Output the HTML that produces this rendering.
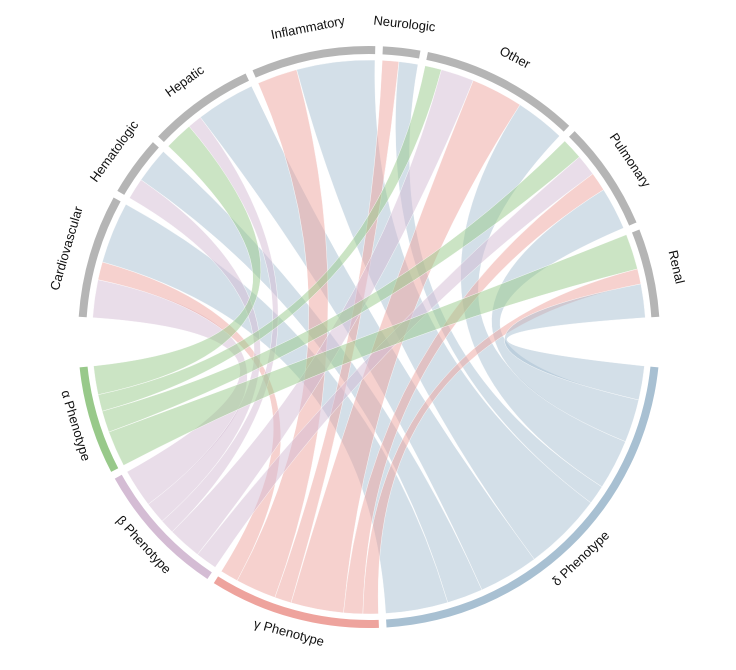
<!DOCTYPE html>
<html><head><meta charset="utf-8"><style>
html,body{margin:0;padding:0;background:#fff;}
svg{display:block;font-family:"Liberation Sans",Arial,sans-serif;}
</style></head><body>
<svg id="chart" width="736" height="670" viewBox="0 0 736 670"></svg>
<script>
const categories = ["Cardiovascular","Hematologic","Hepatic","Inflammatory","Neurologic","Other","Pulmonary","Renal"];
const phenotypes = ["α Phenotype","β Phenotype","γ Phenotype","δ Phenotype"];
// values per category for each phenotype
const alphaValues = [0, 0, 6, 0, 0, 3.5, 4.5, 7.5];
const betaValues  = [8, 4.5, 3, 0, 0, 7, 4.5, 0];
const gammaValues = [3.8, 0, 0, 8.5, 3.5, 11, 4, 3.2];
const deltaValues = [13, 7.5, 12.5, 16.5, 4, 10.5, 9, 7.1];

const phenoColors = ["#98c98a","#d4bcd4","#eea39d","#a8c0d2"];
const series = [alphaValues, betaValues, gammaValues, deltaValues];
const NS = "http://www.w3.org/2000/svg";
const svg = document.getElementById("chart");
const cx = 369, cy = 337, rOut = 291, rIn = 283, rRib = 277;
const deg = Math.PI/180, pad = 1.5;

function pt(r, a){ return [cx + r*Math.sin(a*deg), cy - r*Math.cos(a*deg)]; }
function mk(tag, attrs){ const e=document.createElementNS(NS,tag); for(const k in attrs) e.setAttribute(k, attrs[k]); return e; }

const catTotals = categories.map((c,i)=>series.reduce((s,v)=>s+v[i],0));
const total = catTotals.reduce((a,b)=>a+b,0);
const topStart=-86, topEnd=86, botStart=96, botEnd=264;
const kTop = (topEnd-topStart - pad*(categories.length-1))/total;
const kBot = (botEnd-botStart - pad*(phenotypes.length-1))/total;

const catGroups=[], sub={};
let a=topStart;
categories.forEach((c,i)=>{
  const g={start:a}; let s=a;
  series.forEach((v,j)=>{ const w=v[i]*kTop; sub["c"+i+"_"+j]={a0:s,a1:s+w}; s+=w; });
  g.end=s; catGroups.push(g); a=s+pad;
});
const phGroups=[];
a=botStart;
for(let j=phenotypes.length-1;j>=0;j--){
  const g={start:a}; let s=a;
  for(let i=categories.length-1;i>=0;i--){ const w=series[j][i]*kBot; sub["p"+j+"_"+i]={a0:s,a1:s+w}; s+=w; }
  g.end=s; phGroups[j]=g; a=s+pad;
}

function arcBand(a0,a1,ro,ri){
  const p0=pt(ro,a0),p1=pt(ro,a1),p2=pt(ri,a1),p3=pt(ri,a0);
  const l=(a1-a0)>180?1:0;
  return `M${p0}A${ro},${ro} 0 ${l} 1 ${p1}L${p2}A${ri},${ri} 0 ${l} 0 ${p3}Z`;
}
function ribbon(s,t){
  const s0=pt(rRib,s.a0),s1=pt(rRib,s.a1),t0=pt(rRib,t.a0),t1=pt(rRib,t.a1);
  return `M${s0}A${rRib},${rRib} 0 0 1 ${s1}Q${cx},${cy} ${t0}A${rRib},${rRib} 0 0 1 ${t1}Q${cx},${cy} ${s0}Z`;
}

const gr = mk("g",{});


svg.appendChild(gr);
const names=["alpha","beta","gamma","delta"];
categories.forEach((c,i)=>{
  series.forEach((v,j)=>{
    if(v[i]<=0) return;
    const p=mk("path",{d:ribbon(sub["c"+i+"_"+j],sub["p"+j+"_"+i]),fill:phenoColors[j],"fill-opacity":"0.5",stroke:"#fff","stroke-width":"0.5","stroke-opacity":"0.8"});
    
    
    gr.appendChild(p);
  });
});

categories.forEach((c,i)=>{
  const g=catGroups[i];
  const p=mk("path",{d:arcBand(g.start,g.end,rOut,rIn),fill:"#b5b5b5"});
  
  
  svg.appendChild(p);
  const m=(g.start+g.end)/2, q=pt(311,m);
  const t=mk("text",{x:q[0],y:q[1],"text-anchor":"middle","font-size":"13",fill:"#111",transform:`rotate(${m} ${q[0]} ${q[1]})`});
  t.textContent=c;
  
  
  svg.appendChild(t);
});
phenotypes.forEach((ph,j)=>{
  const g=phGroups[j];
  const p=mk("path",{d:arcBand(g.start,g.end,rOut,rIn),fill:phenoColors[j]});
  
  
  svg.appendChild(p);
  const m=(g.start+g.end)/2, q=pt(301,m);
  const t=mk("text",{x:q[0],y:q[1],"text-anchor":"middle","dominant-baseline":"hanging","font-size":"13",fill:"#111",transform:`rotate(${m-180} ${q[0]} ${q[1]})`});
  t.textContent=ph;
  
  
  svg.appendChild(t);
});
</script>
</body></html>
